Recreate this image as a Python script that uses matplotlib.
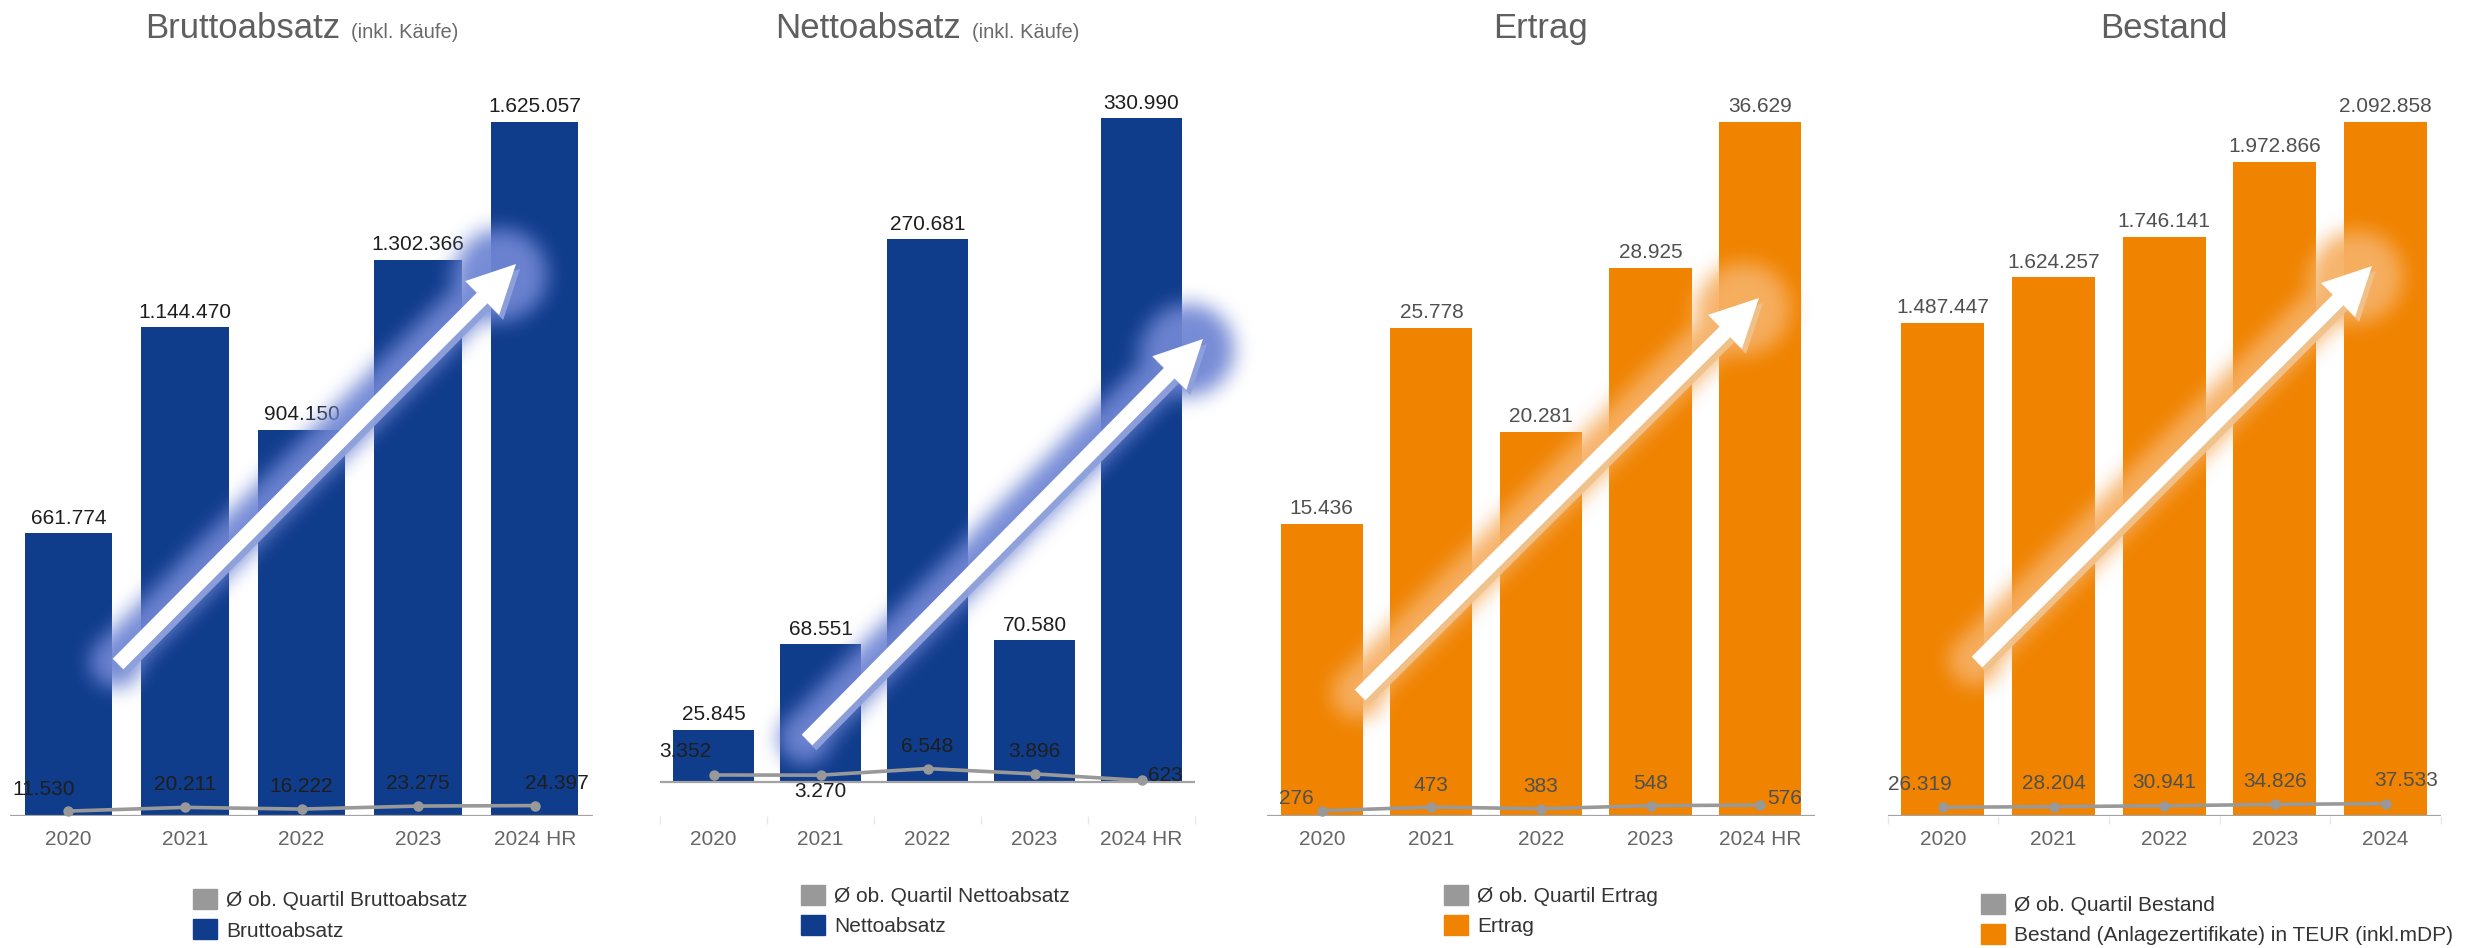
import numpy as np
import matplotlib
matplotlib.use('Agg')
import matplotlib.pyplot as plt
from matplotlib.patches import Polygon, Patch
from matplotlib.path import Path

plt.rcParams['font.family'] = ['Liberation Sans', 'DejaVu Sans']

# ---------------- data ----------------
years_hr = ['2020', '2021', '2022', '2023', '2024 HR']
years = ['2020', '2021', '2022', '2023', '2024']

brutto = [661774, 1144470, 904150, 1302366, 1625057]
brutto_q = [11530, 20211, 16222, 23275, 24397]
netto = [25845, 68551, 270681, 70580, 330990]
netto_q = [3352, 3270, 6548, 3896, 623]
ertrag = [15436, 25778, 20281, 28925, 36629]
ertrag_q = [276, 473, 383, 548, 576]
bestand = [1487447, 1624257, 1746141, 1972866, 2092858]
bestand_q = [26319, 28204, 30941, 34826, 37533]

titles = ['Bruttoabsatz', 'Nettoabsatz', 'Ertrag', 'Bestand']
subtitles = ['(inkl. Käufe)', '(inkl. Käufe)', '', '']
legend_line = ['Ø ob. Quartil Bruttoabsatz', 'Ø ob. Quartil Nettoabsatz',
               'Ø ob. Quartil Ertrag', 'Ø ob. Quartil Bestand']
legend_bar = ['Bruttoabsatz', 'Nettoabsatz', 'Ertrag',
              'Bestand (Anlagezertifikate) in TEUR (inkl.mDP)']

# ---------------- style / layout ----------------
W, H = 2466, 948
BLUE = '#103c8c'
ORANGE = '#f08300'
GRAY = '#999999'
PT = 0.72  # points per pixel at dpi 100

panels = [
    dict(bars=brutto, line=brutto_q, cats=years_hr, color=BLUE, x0=10, x1=593,
         base=816, top=122, lcol='#1e1e1e', ticks=False,
         loff=[(-25, 22), (0, 23), (0, 23), (0, 23), (22, 22)],
         leg=(193, 886), arrow=((118, 664), (516, 264)), glow=(112, 134, 212)),
    dict(bars=netto, line=netto_q, cats=years_hr, color=BLUE, x0=660, x1=1195,
         base=781.7, top=118.5, lcol='#1e1e1e', ticks=True,
         loff=[(-28, 23), (0, -16), (0, 22), (0, 22), (24, 5)],
         leg=(801, 881.5), arrow=((807, 740), (1203, 339)), glow=(112, 134, 212)),
    dict(bars=ertrag, line=ertrag_q, cats=years_hr, color=ORANGE, x0=1267, x1=1815,
         base=816, top=122, lcol='#505050', ticks=False,
         loff=[(-25, 12), (0, 22), (0, 22), (0, 22), (24, 7)],
         leg=(1444, 881.5), arrow=((1360, 695), (1759, 298)), glow=(246, 176, 100)),
    dict(bars=bestand, line=bestand_q, cats=years, color=ORANGE, x0=1887.5, x1=2441,
         base=816, top=122, lcol='#505050', ticks=True,
         loff=[(-23, 23), (0, 23), (0, 23), (0, 23), (21, 23)],
         leg=(1981, 890.5), arrow=((1977, 662), (2372, 266)), glow=(246, 176, 100)),
]

AX_BOTTOM = 816
AX_TOP = 95


def fmt(v):
    return f"{v:,}".replace(',', '.')


fig = plt.figure(figsize=(W / 100, H / 100), dpi=100)
fig.patch.set_facecolor('white')

for i, p in enumerate(panels):
    scale = max(p['bars']) / (p['base'] - p['top'])  # value per pixel
    ax = fig.add_axes([p['x0'] / W, 1 - AX_BOTTOM / H,
                       (p['x1'] - p['x0']) / W, (AX_BOTTOM - AX_TOP) / H])
    ax.set_xlim(-0.5, 4.5)
    ax.set_ylim(-(AX_BOTTOM - p['base']) * scale, (p['base'] - AX_TOP) * scale)
    ax.patch.set_alpha(0)
    for s in ax.spines.values():
        s.set_visible(False)
    ax.set_yticks([])
    x = np.arange(len(p['cats']))
    ax.bar(x, p['bars'], width=0.75, color=p['color'], zorder=2)
    ax.axhline(0, color='#a3a3a3', lw=1.6, zorder=2.5)
    ax.plot(x, p['line'], color=GRAY, lw=2.6, marker='o', ms=6.5, zorder=3,
            solid_capstyle='round')
    ax.set_xticks(x)
    ax.set_xticklabels(p['cats'], fontsize=15, color='#666666')
    ax.tick_params(axis='x', which='major', length=0, pad=10)
    if p['ticks']:
        ax.set_xticks(np.arange(-0.5, 5, 1), minor=True)
        ax.tick_params(axis='x', which='minor', length=6, width=1, color='#e8e8e8')
    for xi, v in zip(x, p['bars']):
        ax.annotate(fmt(v), (xi, v), xytext=(0, 9.5 * PT), textcoords='offset points',
                    ha='center', va='baseline', fontsize=15, color=p['lcol'], zorder=4)
    for xi, v, (dx, dy) in zip(x, p['line'], p['loff']):
        ax.annotate(fmt(v), (xi, v), xytext=(dx * PT, dy * PT), textcoords='offset points',
                    ha='center', va='center', fontsize=15, color=p['lcol'], zorder=4)
    # legend
    lx, ly = p['leg']
    fig.legend(handles=[Patch(color=GRAY), Patch(color=p['color'])],
               labels=[legend_line[i], legend_bar[i]],
               loc='upper left', bbox_to_anchor=(lx / W, 1 - (ly + 3) / H),
               bbox_transform=fig.transFigure, frameon=False, borderpad=0,
               borderaxespad=0, handlelength=1.15, handleheight=1.1,
               handletextpad=0.45, labelspacing=0.45, fontsize=15,
               labelcolor='#333333')

# ---------------- titles ----------------
renderer = fig.canvas.get_renderer()
for i, p in enumerate(panels):
    cx = (p['x0'] + p['x1']) / 2
    yb = 1 - 38 / H
    t1 = fig.text(0, yb, titles[i], fontsize=25, color='#5f5f5f', va='baseline')
    w1 = t1.get_window_extent(renderer).width
    if subtitles[i]:
        t2 = fig.text(0, yb, subtitles[i], fontsize=14.5, color='#6a6a6a', va='baseline')
        w2 = t2.get_window_extent(renderer).width
        gap = 11
        left = cx - (w1 + gap + w2) / 2
        t1.set_x(left / W)
        t2.set_x((left + w1 + gap) / W)
    else:
        t1.set_x((cx - w1 / 2) / W)

# ---------------- decorative arrows with glow ----------------
ov = fig.add_axes([0, 0, 1, 1], zorder=10)
ov.set_xlim(0, W)
ov.set_ylim(H, 0)
ov.axis('off')
ov.patch.set_alpha(0)


def arrow_pts(T, P, sw, hl, hw, ext0=0.0, ext1=0.0):
    T = np.asarray(T, float)
    P = np.asarray(P, float)
    d = P - T
    L = np.hypot(*d)
    u = d / L
    v = np.array([-u[1], u[0]])
    T2 = T - u * ext0
    P2 = P + u * ext1
    neck = P2 - u * hl
    return np.array([T2 + v * sw, neck + v * sw, neck + v * hw, P2,
                     neck - v * hw, neck - v * sw, T2 - v * sw]), u, v


def box_blur(a, r, axis):
    pad = [(0, 0), (0, 0)]
    pad[axis] = (r + 1, r)
    ap = np.pad(a, pad)
    c = np.cumsum(ap, axis=axis)
    n = a.shape[axis]
    if axis == 0:
        return (c[2 * r + 1:2 * r + 1 + n] - c[:n]) / (2 * r + 1)
    return (c[:, 2 * r + 1:2 * r + 1 + n] - c[:, :n]) / (2 * r + 1)


rgba = np.zeros((H, W, 4))
for p in panels:
    T, P = p['arrow']
    pts, u, v = arrow_pts(T, P, 22, 66, 40, 8, 12)
    pts = pts - v * 6
    xa0 = int(max(0, min(T[0], P[0]) - 100))
    xa1 = int(min(W, max(T[0], P[0]) + 100))
    ya0 = int(max(0, min(T[1], P[1]) - 100))
    ya1 = int(min(H, max(T[1], P[1]) + 100))
    yy, xx = np.mgrid[ya0:ya1, xa0:xa1]
    q = np.column_stack([xx.ravel() + 0.5, yy.ravel() + 0.5])
    m = Path(pts).contains_points(q).reshape(xx.shape).astype(float)
    Pn = np.asarray(P, float) - u * 18 - v * 3
    Tn = np.asarray(T, float) - v * 3
    m = np.maximum(m, ((xx + 0.5 - Pn[0]) ** 2 + (yy + 0.5 - Pn[1]) ** 2 <= 46 ** 2))
    m = np.maximum(m, ((xx + 0.5 - Tn[0]) ** 2 + (yy + 0.5 - Tn[1]) ** 2 <= 26 ** 2))
    for _ in range(3):
        m = box_blur(m, 9, 0)
        m = box_blur(m, 9, 1)
    a = np.clip(m * 0.95, 0, 1)
    sub = rgba[ya0:ya1, xa0:xa1]
    col = np.array(p['glow']) / 255.0
    sub[..., :3] = col
    sub[..., 3] = np.maximum(sub[..., 3], a)

ov.imshow(rgba, extent=(0, W, H, 0), origin='upper', interpolation='bilinear', zorder=1)

for p in panels:
    T, P = p['arrow']
    pts, u, v = arrow_pts(T, P, 7.5, 48, 24)
    shadow_col = (0.56, 0.63, 0.86) if p['color'] == BLUE else (0.94, 0.76, 0.55)
    ov.add_patch(Polygon(pts + np.array([4, 5]), closed=True, facecolor=shadow_col,
                         edgecolor='none', alpha=0.95, zorder=2))
    ov.add_patch(Polygon(pts, closed=True, facecolor='white', edgecolor='none', zorder=3))

fig.savefig('out.png', dpi=100, facecolor='white')
